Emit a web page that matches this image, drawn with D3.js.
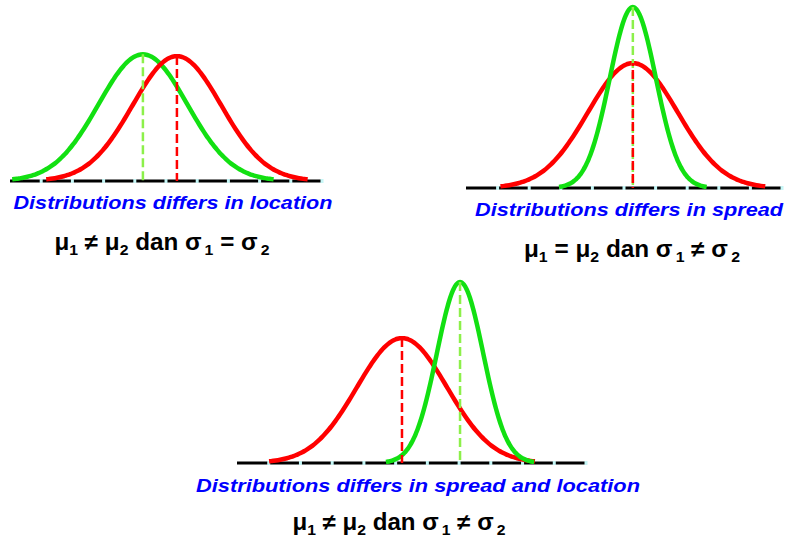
<!DOCTYPE html>
<html>
<head>
<meta charset="utf-8">
<script src="https://cdn.jsdelivr.net/npm/d3@7"></script>
<style>
  html, body { margin: 0; padding: 0; background: #fff; }
  svg { display: block; }
</style>
</head>
<body>
<svg id="chart" width="787" height="539"></svg>
<script>
// Three panels comparing a red and a green normal distribution.
const captions = [
  "Distributions differs in location",
  "Distributions differs in spread",
  "Distributions differs in spread and location"
];
// Formula per panel: [symbol, subscript] pairs and operator strings.
const formulas = [
  [["μ", "1"], "≠", ["μ", "2"], "dan", ["σ", "1"], "=", ["σ", "2"]],
  [["μ", "1"], "=", ["μ", "2"], "dan", ["σ", "1"], "≠", ["σ", "2"]],
  [["μ", "1"], "≠", ["μ", "2"], "dan", ["σ", "1"], "≠", ["σ", "2"]]
];
const axisMax = [10, 10, 11];          // axis length in units
const redMean = [5.35, 5.28, 5.2];
const redSd = [1.42, 1.42, 1.42];
const redPeak = [0.69, 0.69, 0.69];    // relative curve height
const greenMean = [4.26, 5.28, 7.03];
const greenSd = [1.42, 0.73, 0.73];
const greenPeak = [0.70, 1.0, 1.0];

// Layout of each panel on the page.
const frames = [
  { x0: 10,  x1: 322, base: 181, capX: 173, capY: 209, capW: 319, fX: 162, fY: 250, fW: 215 },
  { x0: 466, x1: 782, base: 188, capX: 629, capY: 216, capW: 308, fX: 632, fY: 257, fW: 216 },
  { x0: 237, x1: 586, base: 463, capX: 418, capY: 492, capW: 444, fX: 399, fY: 530, fW: 213 }
];
const fullHeight = 181;  // px for relative height 1.0

const svg = d3.select("#chart");
const RED = "#ff0000", GREEN = "#12e012", LIGHTGREEN = "#8cf04a", AXIS_GAP = "#c6f6f6";

function curvePoints(mean, sd, peak, span) {
  const pts = [];
  const n = 120;
  for (let i = 0; i <= n; i++) {
    const x = mean - span * sd + (2 * span * sd) * i / n;
    const z = (x - mean) / sd;
    pts.push([x, peak * Math.exp(-0.5 * z * z)]);
  }
  return pts;
}

frames.forEach((f, i) => {
  const g = svg.append("g");
  const x = d3.scaleLinear().domain([0, axisMax[i]]).range([f.x0, f.x1]);
  const y = d3.scaleLinear().domain([0, 1]).range([f.base, f.base - fullHeight]);

  // Baseline with light tick gaps at each unit.
  g.append("line")
    .attr("x1", x(0)).attr("x2", x(axisMax[i]))
    .attr("y1", f.base).attr("y2", f.base)
    .attr("stroke", "#000").attr("stroke-width", 3);
  const ticks = d3.range(1, axisMax[i] + 1);
  g.selectAll("rect.gap").data(ticks).join("rect")
    .attr("class", "gap")
    .attr("x", d => x(d) - 1.5).attr("y", f.base - 2)
    .attr("width", 3).attr("height", 4)
    .attr("fill", AXIS_GAP);

  const line = d3.line().x(d => x(d[0])).y(d => y(d[1])).curve(d3.curveBasis);
  const red = curvePoints(redMean[i], redSd[i], redPeak[i], 2.95);
  const green = curvePoints(greenMean[i], greenSd[i], greenPeak[i], greenSd[i] < 1 ? 3.2 : 2.95);

  const drawCurve = (pts, col) => g.append("path").attr("d", line(pts))
    .attr("fill", "none").attr("stroke", col).attr("stroke-width", 4.5).attr("stroke-linecap", "butt");
  const drawDrop = (m, p, col, offset) => g.append("line")
    .attr("x1", x(m)).attr("x2", x(m))
    .attr("y1", y(p)).attr("y2", f.base)
    .attr("stroke", col).attr("stroke-width", 2.5)
    .attr("stroke-dasharray", "9,4").attr("stroke-dashoffset", offset || 0);

  if (i === 0) {
    drawCurve(green, GREEN);
    drawCurve(red, RED);
    drawDrop(greenMean[i], greenPeak[i], LIGHTGREEN);
    drawDrop(redMean[i], redPeak[i], RED);
  } else {
    drawCurve(red, RED);
    drawCurve(green, GREEN);
    drawDrop(greenMean[i], greenPeak[i], LIGHTGREEN);
    drawDrop(redMean[i], redPeak[i], RED, i === 1 ? 6 : 0);
  }

  // Caption
  g.append("text")
    .attr("x", f.capX).attr("y", f.capY)
    .attr("text-anchor", "middle")
    .attr("font-family", "Liberation Sans, Arial, sans-serif")
    .attr("font-size", 19).attr("font-weight", "bold").attr("font-style", "italic")
    .attr("fill", "#0000ff")
    .attr("textLength", f.capW).attr("lengthAdjust", "spacingAndGlyphs")
    .text(captions[i]);

  // Formula with subscripts
  const t = g.append("text")
    .attr("x", f.fX).attr("y", f.fY)
    .attr("text-anchor", "middle")
    .attr("font-family", "Liberation Sans, Arial, sans-serif")
    .attr("font-size", 23).attr("font-weight", "bold")
    .attr("fill", "#000");
  let lowered = false;
  formulas[i].forEach((part, k) => {
    const lead = k === 0 ? "" : " ";
    const main = Array.isArray(part) ? part[0] : part;
    t.append("tspan").attr("dy", lowered ? -5 : 0).text(lead + main);
    lowered = false;
    if (Array.isArray(part)) {
      t.append("tspan").attr("font-size", 15).attr("dy", 5)
        .attr("dx", part[0] === "σ" ? 3 : 0).text(part[1]);
      lowered = true;
    }
  });
  t.attr("textLength", f.fW).attr("lengthAdjust", "spacingAndGlyphs");
});
</script>
</body>
</html>
